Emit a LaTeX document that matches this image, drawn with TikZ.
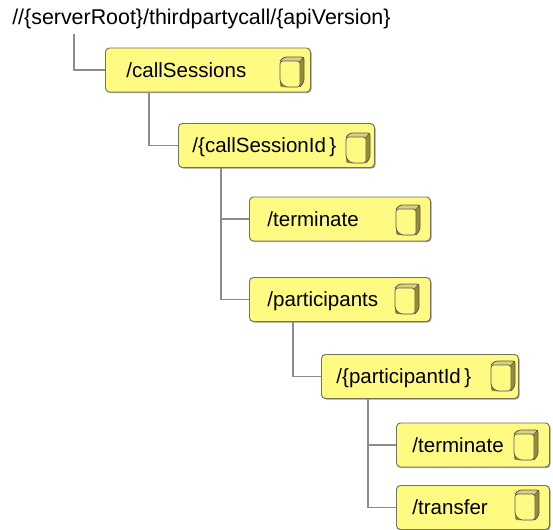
\documentclass[tikz,border=0pt]{standalone}
\usepackage{fontspec}
\setmainfont{Liberation Sans}
\usetikzlibrary{shadows}
\definecolor{boxfill}{RGB}{255,250,130}
\definecolor{boxedge}{RGB}{115,115,90}
\definecolor{linkgray}{RGB}{140,140,140}
\definecolor{sidedark}{RGB}{150,140,50}
\definecolor{sidelight}{RGB}{215,210,125}
\tikzset{
  apibox/.style 2 args={draw=boxedge,fill=boxfill,line width=0.7pt,rounded corners=3pt,
    anchor=west,align=left,font=\fontsize{15.4}{17}\selectfont,
    text width=#1*0.75pt-2*#2*0.75pt,inner xsep=#2*0.75pt,inner ysep=0pt,minimum height=33pt,
    text height=12pt,text depth=1.5pt,
    drop shadow={shadow xshift=0.8pt,shadow yshift=-0.8pt,fill=black!40,opacity=1}},
  link/.style={draw=linkgray,line width=1pt},
  docicon/.pic={
    \fill[sidedark,rounded corners=1.5pt] (-8,-15) -- (12,-15) -- (12,10) -- (8,15) -- (-12,15) -- (-12,-11) -- cycle;
    \fill[sidelight] (-12,-11) -- (-8,-15) -- (12,-15) -- (8,-11) -- cycle;
    \draw[black!65,line width=0.6pt,rounded corners=2pt,fill=boxfill] (-12,-11) -- (8,-11) -- (8,15) -- (-7,15) -- (-12,10) -- cycle;
    \draw[black!65,line width=0.6pt,rounded corners=2pt] (-12,-11) -- (-8,-15) -- (12,-15) -- (12,10) -- (8,15);
    \draw[black!65,line width=0.4pt] (8,-11) -- (12,-15);
  }
}
\begin{document}
\begin{tikzpicture}[x=0.75pt,y=-0.75pt]
  \useasboundingbox (0,0) rectangle (553,529);
  \clip (0,0) rectangle (553,529);
  % resources
  \node[anchor=base west,inner sep=0pt,font=\fontsize{16.05}{18}\selectfont] (root) at (12,24) {//\{serverRoot\}/thirdpartycall/\{apiVersion\}};
  \node[apibox={205}{21}] (calls) at (105,70) {/callSessions};
  \node[apibox={196}{14}] (session) at (178,145.5) {/\{callSessionId\,\}};
  \node[apibox={181}{18}] (term) at (249,219) {/terminate};
  \node[apibox={181}{18}] (parts) at (249,299.5) {/participants};
  \node[apibox={197}{15}] (partid) at (321,376.5) {/\{participantId\,\}};
  \node[apibox={153}{16}] (termb) at (396,445) {/terminate};
  \node[apibox={153}{16}] (transfer) at (396,507.5) {/transfer};
  % connectors
  \coordinate (rootdrop) at (74,34);
  \draw[link] (rootdrop) |- (calls.west);
  \draw[link] (calls.south west) ++(44,0) |- (session.west);
  \draw[link] (session.south west) ++(43,0) |- (term.west);
  \draw[link] (session.south west) ++(43,0) |- (parts.west);
  \draw[link] (parts.south west) ++(44,0) |- (partid.west);
  \draw[link] (partid.south west) ++(47,0) |- (termb.west);
  \draw[link] (partid.south west) ++(47,0) |- (transfer.west);
  % icons
  \pic at (292,72) {docicon};
  \pic at (358,148) {docicon};
  \pic at (408,220) {docicon};
  \pic at (407,299) {docicon};
  \pic at (503,376) {docicon};
  \pic at (526,445) {docicon};
  \pic at (527,505) {docicon};
\end{tikzpicture}
\end{document}
